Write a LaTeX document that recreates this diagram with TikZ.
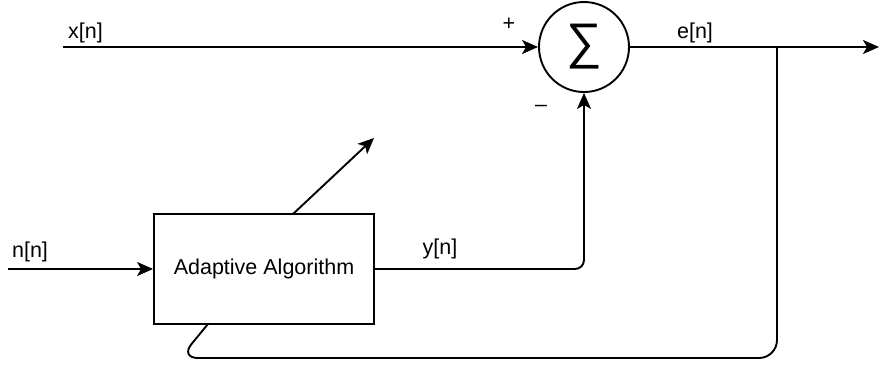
\documentclass[tikz,border=0pt]{standalone}
\usepackage{fontspec}
\setmainfont{Liberation Sans}
\usetikzlibrary{arrows.meta}

\begin{document}
\begin{tikzpicture}[x=1pt,y=-1pt,
  wire/.style={line width=1.9pt, line join=round},
  sig/.style={wire, -{Stealth[length=16pt,width=14pt,inset=4pt]}},
  lbl/.style={inner sep=0pt, font=\fontsize{21.5}{25}\selectfont},
  blockbox/.style={draw, line width=1.9pt, minimum width=220pt, minimum height=110pt, inner sep=0pt},
  sumnode/.style={draw, circle, line width=1.9pt, minimum size=90pt, inner sep=0pt}
]
\useasboundingbox (0,0) rectangle (880,365);

% blocks
\node[sumnode] (sum) at (584,47) {};
\node[lbl, font=\fontsize{50}{50}\selectfont] (sigma) at (584,47) {∑};
\node[blockbox, lbl] (alg) at (264,269) {Adaptive Algorithm};

% free ends of the signal lines
\coordinate (xin) at (63,47);
\coordinate (nin) at (8,269);
\coordinate (eout) at (879,47);
\coordinate (tap) at (777,47);
\coordinate (fb) at (208,324);
\coordinate (adjstart) at (293,214);
\coordinate (adjend) at (374,138);

% signal paths
\draw[sig] (xin) -- (sum.west);
\draw[sig] (nin) -- (alg.west);
\draw[sig] (sum.east) -- (eout);
\draw[sig, rounded corners=9pt] (alg.east) -| (sum.south);
\draw[wire, rounded corners=18pt] (tap) |- (180,358) -- (fb);
\draw[sig] (adjstart) -- (adjend);

% labels
\node[lbl] (lx) at (85.5,33) {x[n]};
\node[lbl] (ln) at (30,252) {n[n]};
\node[lbl] (ly) at (440,249) {y[n]};
\node[lbl] (le) at (695,33) {e[n]};
\node[lbl] (lplus) at (509,24) {+};
\node[lbl] (lminus) at (541,108) {–};
\end{tikzpicture}
\end{document}
